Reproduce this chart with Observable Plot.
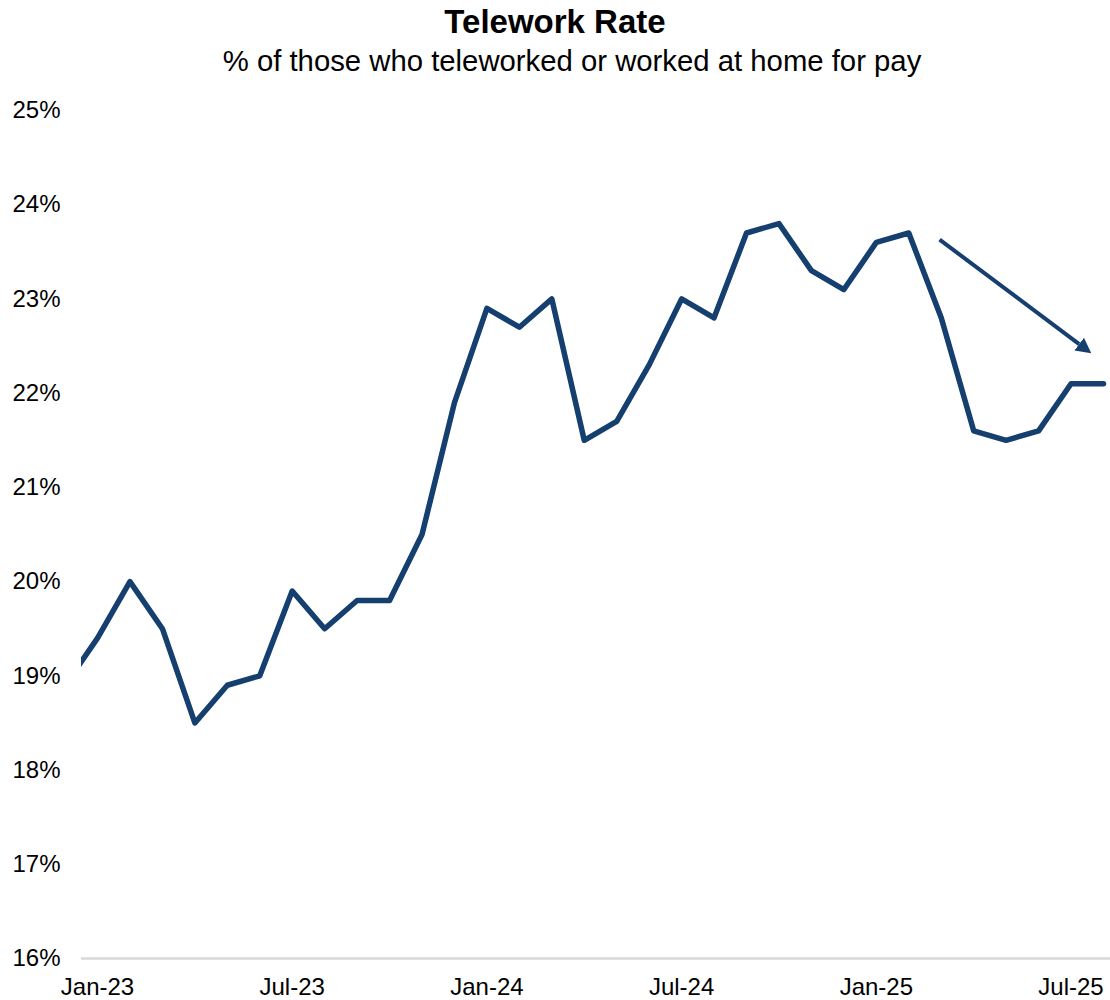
<!DOCTYPE html>
<html>
<head>
<meta charset="utf-8">
<script src="https://cdn.jsdelivr.net/npm/d3@7"></script>
<script src="https://cdn.jsdelivr.net/npm/@observablehq/plot@0.6"></script>
<style>
  html, body { margin: 0; padding: 0; background: #fff; }
  body { width: 1110px; font-family: "Liberation Sans", Arial, sans-serif; color: #000; }
  #title { height: 42px; line-height: 44px; text-align: center; font-weight: bold; font-size: 33px; }
  #subtitle { height: 43px; line-height: 38px; text-align: center; font-size: 29.3px; padding-left: 34px; box-sizing: border-box; }
  #chart svg { display: block; }
</style>
</head>
<body>
<div id="title">Telework Rate</div>
<div id="subtitle">% of those who teleworked or worked at home for pay</div>
<div id="chart"></div>
<script>
// Month labels (first entry precedes the visible axis and is clipped)
const months = ["Dec-22","Jan-23","Feb-23","Mar-23","Apr-23","May-23","Jun-23","Jul-23","Aug-23","Sep-23","Oct-23","Nov-23","Dec-23",
  "Jan-24","Feb-24","Mar-24","Apr-24","May-24","Jun-24","Jul-24","Aug-24","Sep-24","Oct-24","Nov-24","Dec-24",
  "Jan-25","Feb-25","Mar-25","Apr-25","May-25","Jun-25","Jul-25","Aug-25"];
// Telework rate, %
const rates = [18.9, 19.4, 20.0, 19.5, 18.5, 18.9, 19.0, 19.9, 19.5, 19.8, 19.8, 20.5, 21.9,
  22.9, 22.7, 23.0, 21.5, 21.7, 22.3, 23.0, 22.8, 23.7, 23.8, 23.3, 23.1,
  23.6, 23.7, 22.8, 21.6, 21.5, 21.6, 22.1, 22.1];
const xTickLabels = ["Jan-23","Jul-23","Jan-24","Jul-24","Jan-25","Jul-25"];
const yTicks = [16,17,18,19,20,21,22,23,24,25];
// Trend arrow annotation (month position relative to Jan-23, value in %)
const arrowFrom = [25.95, 23.63];
const arrowTo = [30.25, 22.52];

const color = "#143F6E";
const data = months.map((m, i) => ({month: m, idx: i - 1, rate: rates[i]}));
const tickIdx = xTickLabels.map(l => months.indexOf(l) - 1);

const plot = Plot.plot({
  width: 1110,
  height: 915,
  marginLeft: 81,
  marginRight: 0,
  marginTop: 25,
  marginBottom: 42,
  style: {fontFamily: "'Liberation Sans', Arial, sans-serif", fontSize: "24px", color: "#000", background: "#fff", overflow: "visible"},
  x: {domain: [-0.493, 31.216], ticks: tickIdx, tickFormat: i => months[i + 1], tickSize: 0, tickPadding: 19, label: null},
  y: {domain: [16, 25], ticks: yTicks, tickFormat: d => d + "%", tickSize: 0, tickPadding: 21, label: null},
  marks: [
    Plot.ruleY([16], {stroke: "#d9d9d9", strokeWidth: 2.5}),
    Plot.line(data, {x: "idx", y: "rate", stroke: color, strokeWidth: 5.5, strokeLinejoin: "round", strokeLinecap: "round", clip: true}),
    Plot.link([{x1: arrowFrom[0], y1: arrowFrom[1], x2: arrowTo[0], y2: arrowTo[1]}],
      {x1: "x1", y1: "y1", x2: "x2", y2: "y2", stroke: color, strokeWidth: 4, markerEnd: "arrow"})
  ]
});
document.getElementById("chart").appendChild(plot);

// Make the arrow head a filled triangle
plot.querySelectorAll("marker").forEach(mk => {
  mk.setAttribute("viewBox", "0 -2 3.8 4");
  mk.setAttribute("markerWidth", "3.8");
  mk.setAttribute("markerHeight", "4");
  mk.setAttribute("refX", "0");
  mk.setAttribute("refY", "0");
  mk.setAttribute("fill", color);
  mk.setAttribute("stroke", "none");
  const p = mk.querySelector("path");
  if (p) { p.setAttribute("d", "M0,-2L3.8,0L0,2Z"); p.setAttribute("fill", color); p.setAttribute("stroke", "none"); }
});
</script>
</body>
</html>
